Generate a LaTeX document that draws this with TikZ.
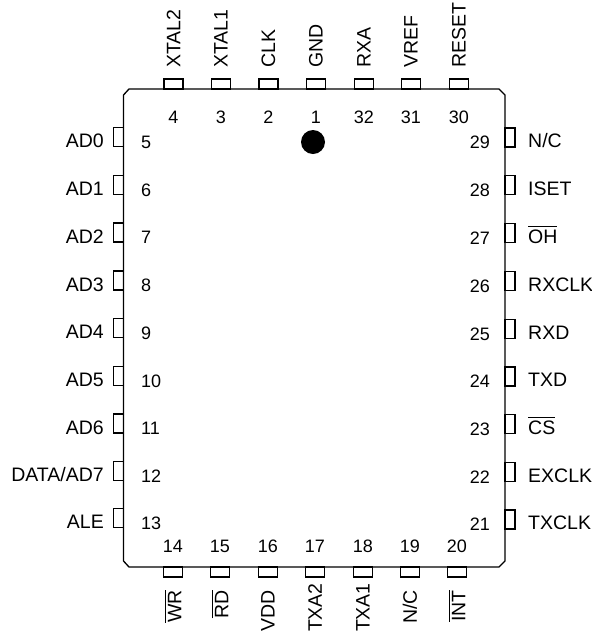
\documentclass[tikz,border=0pt]{standalone}
\usepackage{fontspec}
\setmainfont{Liberation Sans}
\newcommand\ovl[1]{\vbox{\hrule height 1.2pt\kern 2.2pt\hbox{#1}}}
\tikzset{
 x=1pt,y=-1pt,
 lbl/.style={inner sep=0pt,font=\fontsize{19.5}{21}\selectfont},
 num/.style={inner sep=0pt,font=\fontsize{18}{20}\selectfont},
 pinh/.style={draw,line width=1.3pt,minimum width=19pt,minimum height=10pt,inner sep=0pt},
 pinv/.style={draw,line width=1.3pt,minimum width=10pt,minimum height=19pt,inner sep=0pt},
 bodyline/.style={line width=1.3pt},
}
\begin{document}
\begin{tikzpicture}
\useasboundingbox (0,0) rectangle (592,633);
\draw[bodyline] (129,89) -- (499,89) -- (505,95) -- (505,561) -- (499,567) -- (129,567) -- (123.5,561) -- (123.5,95) -- cycle;
\foreach \n/\x/\t in {4/173.5/XTAL2,3/221/XTAL1,2/268.5/CLK,1/316/GND,32/364/RXA,31/411/VREF,30/459/RESET}{
  \node[pinh] (p\n) at (\x,84) {};
  \node[lbl,rotate=90,anchor=west] (t\n) at (\x,68) {\t};
  \node[num] (n\n) at (\x,117) {\n};
}
\foreach \n/\x/\t/\ty in {14/173/\ovl{WR}/590,15/220/\ovl{RD}/590,16/268/VDD/590,17/315/TXA2/583,18/363/TXA1/583,19/410/{N/C}/590,20/457/\ovl{INT}/590}{
  \node[pinh] (p\n) at (\x,572) {};
  \node[lbl,rotate=90,anchor=east] (t\n) at (\x,\ty) {\t};
  \node[num] (n\n) at (\x,546) {\n};
}
\foreach \n/\y/\t in {5/137/AD0,6/185/AD1,7/232.5/AD2,8/280.5/AD3,9/328/AD4,10/376/AD5,11/423.5/AD6,12/471/{DATA/AD7},13/518/ALE}{
  \node[pinv] (p\n) at (118.5,\y) {};
  \node[lbl,anchor=base east] (t\n) at (104,\y+10.5) {\t};
  \node[num,anchor=west] (n\n) at (141,\y+5) {\n};
}
\foreach \n/\y/\t in {29/137.5/{N/C},28/185/ISET,27/233/\ovl{OH},26/281/RXCLK,25/329/RXD,24/376.5/TXD,23/424/\ovl{CS},22/472/EXCLK,21/519.5/TXCLK}{
  \node[pinv] (p\n) at (510,\y) {};
  \node[lbl,anchor=base west] (t\n) at (528,\y+10) {\t};
  \node[num,anchor=east] (n\n) at (490,\y+5) {\n};
}
\fill (313,142) circle (12);
\end{tikzpicture}
\end{document}
